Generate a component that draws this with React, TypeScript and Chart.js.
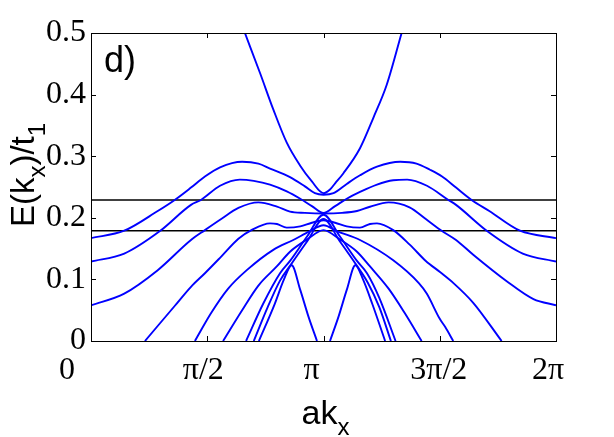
import React, { useEffect, useRef } from "react";
import { Chart, registerables } from "chart.js";

Chart.register(...registerables);

// x values are in units of pi (0 .. 2 pi)
const xTickValues = [0, 0.5, 1, 1.5, 2];
const xTickLabels = ["0", "π/2", "π", "3π/2", "2π"];
const yTickValues = [0, 0.1, 0.2, 0.3, 0.4, 0.5];
const yTickLabels = ["0", "0.1", "0.2", "0.3", "0.4", "0.5"];
const levelLines = [0.229, 0.179];

const bandP = [[0.662,0.5],[0.727,0.435],[0.784,0.376],[0.842,0.322],[0.899,0.285],[0.95,0.259],[1.0,0.240],[1.028,0.246],[1.05,0.256],[1.085,0.272],[1.157,0.313],[1.214,0.362],[1.272,0.416],[1.336,0.5]];
const bandA = [[0,0.167],[0.143,0.179],[0.287,0.211],[0.36,0.229],[0.43,0.249],[0.49,0.267],[0.555,0.282],[0.65,0.291],[0.72,0.288],[0.77,0.280],[0.856,0.266],[0.92,0.251],[0.963,0.240],[1.0,0.2375],[1.043,0.240],[1.10,0.255],[1.157,0.269],[1.23,0.283],[1.33,0.291],[1.40,0.288],[1.458,0.278],[1.51,0.267],[1.57,0.249],[1.637,0.229],[1.713,0.211],[1.845,0.179],[2.0,0.167]];
const bandB = [[0,0.129],[0.143,0.142],[0.298,0.179],[0.43,0.221],[0.473,0.229],[0.555,0.252],[0.64,0.262],[0.70,0.260],[0.77,0.254],[0.842,0.243],[0.90,0.231],[0.95,0.219],[1.0,0.208],[1.05,0.219],[1.10,0.231],[1.157,0.242],[1.23,0.254],[1.30,0.261],[1.36,0.262],[1.445,0.252],[1.537,0.229],[1.57,0.221],[1.702,0.179],[1.857,0.142],[2.0,0.129]];
const bandC = [[0,0.058],[0.143,0.077],[0.287,0.115],[0.43,0.164],[0.49,0.180],[0.56,0.198],[0.634,0.216],[0.72,0.225],[0.80,0.218],[0.856,0.210],[0.92,0.208],[1.0,0.207],[1.08,0.208],[1.144,0.211],[1.2,0.218],[1.28,0.225],[1.37,0.217],[1.44,0.198],[1.508,0.179],[1.57,0.164],[1.644,0.140],[1.788,0.097],[1.903,0.068],[2.0,0.058]];
const bandD = [[0.232,0],[0.358,0.056],[0.43,0.088],[0.49,0.110],[0.56,0.137],[0.634,0.166],[0.69,0.180],[0.77,0.191],[0.80,0.190],[0.842,0.184],[0.90,0.186],[0.95,0.192],[1.0,0.196],[1.05,0.192],[1.10,0.186],[1.157,0.184],[1.20,0.190],[1.23,0.191],[1.30,0.180],[1.372,0.156],[1.44,0.130],[1.501,0.112],[1.559,0.094],[1.644,0.062],[1.766,0]];
const bandE = [[0.447,0],[0.516,0.045],[0.59,0.085],[0.67,0.115],[0.784,0.148],[0.87,0.164],[0.94,0.178],[1.0,0.188],[1.06,0.178],[1.157,0.164],[1.30,0.131],[1.41,0.094],[1.444,0.077],[1.50,0.036],[1.523,0.023],[1.558,0]];
const bandF = [[0.568,0],[0.65,0.05],[0.72,0.09],[0.799,0.121],[0.856,0.145],[0.93,0.165],[1.0,0.180],[1.07,0.165],[1.144,0.145],[1.20,0.121],[1.28,0.085],[1.35,0.045],[1.422,0]];
const bandG = [[0.667,0],[0.74,0.06],[0.813,0.110],[0.856,0.130],[0.93,0.170],[1.0,0.205],[1.07,0.170],[1.144,0.130],[1.187,0.110],[1.24,0.07],[1.31,0]];
const bandH = [[0.700,0],[0.76,0.055],[0.813,0.098],[0.856,0.122],[0.93,0.162],[1.0,0.198],[1.07,0.162],[1.144,0.122],[1.19,0.095],[1.24,0.055],[1.29,0]];
const bandJL = [[0.722,0],[0.79,0.06],[0.83,0.10],[0.863,0.123],[0.90,0.083],[0.935,0.04],[0.972,0]];
const bandJR = [[1.028,0],[1.065,0.04],[1.10,0.083],[1.137,0.123],[1.17,0.10],[1.21,0.06],[1.265,0]];

const bands = [bandP, bandA, bandB, bandC, bandD, bandE, bandF, bandG, bandH, bandJL, bandJR];

const xLabelShift = [-24, -4, -12, -1, -8];

const SERIF = '"Liberation Serif", "Times New Roman", serif';
const SANS = '"Liberation Sans", Arial, sans-serif';

function drawSub(ctx: CanvasRenderingContext2D, parts: [string, boolean][], x: number, y: number, size: number) {
  let cx = x;
  for (const [t, sub] of parts) {
    ctx.font = `${sub ? Math.round(size * 0.72) : size}px ${SANS}`;
    ctx.fillText(t, cx, sub ? y + size * 0.33 : y);
    cx += ctx.measureText(t).width;
  }
  return cx - x;
}
function measureSub(ctx: CanvasRenderingContext2D, parts: [string, boolean][], size: number) {
  let w = 0;
  for (const [t, sub] of parts) {
    ctx.font = `${sub ? Math.round(size * 0.72) : size}px ${SANS}`;
    w += ctx.measureText(t).width;
  }
  return w;
}

const decor = {
  id: "decor",
  afterDatasetsDraw(chart: any) {
    const { ctx, chartArea: a, scales } = chart;
    const x = scales.x, y = scales.y;
    ctx.save();
    ctx.strokeStyle = "#000";
    ctx.lineWidth = 1;
    ctx.strokeRect(Math.round(a.left) + 0.5, Math.round(a.top) + 0.5, Math.round(a.right - a.left), Math.round(a.bottom - a.top));
    ctx.beginPath();
    xTickValues.forEach((v) => {
      const px = Math.round(x.getPixelForValue(v)) + 0.5;
      ctx.moveTo(px, a.bottom); ctx.lineTo(px, a.bottom - 5);
      ctx.moveTo(px, a.top); ctx.lineTo(px, a.top + 5);
    });
    yTickValues.forEach((v) => {
      const py = Math.round(y.getPixelForValue(v)) + 0.5;
      ctx.moveTo(a.left, py); ctx.lineTo(a.left + 5, py);
      ctx.moveTo(a.right, py); ctx.lineTo(a.right - 5, py);
    });
    ctx.stroke();

    ctx.fillStyle = "#000";
    ctx.font = `32px ${SERIF}`;
    ctx.textAlign = "center";
    ctx.textBaseline = "middle";
    xTickLabels.forEach((t, i) => {
      ctx.fillText(t, x.getPixelForValue(xTickValues[i]) + xLabelShift[i], a.bottom + 30);
    });

    ctx.textAlign = "left";
    ctx.textBaseline = "alphabetic";
    const xt: [string, boolean][] = [["ak", false], ["x", true]];
    const wx = measureSub(ctx, xt, 34);
    drawSub(ctx, xt, (a.left + a.right) / 2 - wx / 2 + 2, 424, 34);

    const yt: [string, boolean][] = [["E(k", false], ["x", true], [")/t", false], ["1", true]];
    const wy = measureSub(ctx, yt, 33);
    ctx.save();
    ctx.translate(34, (a.top + a.bottom) / 2 - 12);
    ctx.rotate(-Math.PI / 2);
    drawSub(ctx, yt, -wy / 2, 0, 33);
    ctx.restore();

    ctx.font = `36px ${SANS}`;
    ctx.fillText("d)", a.left + 13, a.top + 39);
    ctx.restore();
  },
};

export default function App() {
  const ref = useRef<HTMLCanvasElement | null>(null);
  useEffect(() => {
    document.body.style.margin = "0";
    const datasets: any[] = bands.map((b) => ({
      data: b.map(([px, py]) => ({ x: px, y: py })),
      borderColor: "#0000ff",
      borderWidth: 1.9,
      pointRadius: 0,
      fill: false,
      cubicInterpolationMode: "monotone",
    }));
    levelLines.forEach((v) => {
      datasets.push({
        data: [{ x: 0, y: v }, { x: 2, y: v }],
        borderColor: "#000000",
        borderWidth: 1.6,
        pointRadius: 0,
        fill: false,
      });
    });
    const chart = new Chart(ref.current as HTMLCanvasElement, {
      type: "line",
      data: { datasets },
      options: {
        animation: false,
        responsive: false,
        devicePixelRatio: 1,
        layout: { padding: { top: 33, right: 58, left: 0, bottom: 0 } },
        plugins: { legend: { display: false }, tooltip: { enabled: false } },
        scales: {
          x: {
            type: "linear",
            min: 0,
            max: 2,
            grid: { display: false },
            border: { display: false },
            ticks: { display: false },
            afterFit: (s: any) => { s.height = 96; },
          },
          y: {
            type: "linear",
            min: 0,
            max: 0.5,
            grid: { display: false, drawTicks: false },
            border: { display: false },
            afterBuildTicks: (s: any) => { s.ticks = yTickValues.map((v) => ({ value: v })); },
            ticks: {
              padding: 5,
              color: "#000",
              font: { family: SERIF, size: 32 },
              callback: (v: any) => {
                const i = yTickValues.findIndex((t) => Math.abs(t - v) < 1e-9);
                return i >= 0 ? yTickLabels[i] : "";
              },
            },
            afterFit: (s: any) => { s.width = 91; },
          },
        },
      },
      plugins: [decor],
    } as any);
    return () => chart.destroy();
  }, []);
  return (
    <div style={{ width: 614, height: 437, background: "#fff" }}>
      <canvas ref={ref} width={614} height={437} style={{ display: "block" }} />
    </div>
  );
}
